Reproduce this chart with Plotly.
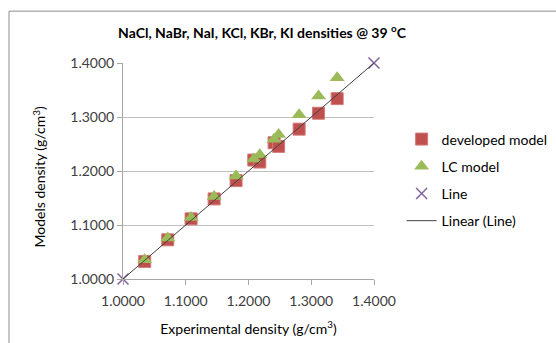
import plotly.graph_objects as go

# Experimental vs. modelled densities (g/cm3)
experimental = [1.0346, 1.0713, 1.1085, 1.1452, 1.1802, 1.2084, 1.2180,
                1.2408, 1.2480, 1.2807, 1.3116, 1.3413]
developed_model = [1.0325, 1.0726, 1.1114, 1.1483, 1.1822, 1.2203, 1.2166,
                   1.2523, 1.2456, 1.2775, 1.3070, 1.3340]
lc_model = [1.0356, 1.0757, 1.1138, 1.1526, 1.1908, 1.2220, 1.2300,
            1.2590, 1.2675, 1.3040, 1.3388, 1.3725]
line_x = [1.0, 1.4]
line_y = [1.0, 1.4]
tick_vals = [1.0, 1.1, 1.2, 1.3, 1.4]

FONT = "Lato, Carlito, Calibri, sans-serif"

fig = go.Figure()
fig.add_trace(go.Scatter(
    x=experimental, y=developed_model, mode="markers", name="developed model",
    marker=dict(symbol="square", size=12, color="#c0504d",
                line=dict(width=1, color="#d27a78")),
    cliponaxis=False, legendgroup="a"))
fig.add_trace(go.Scatter(
    x=experimental, y=lc_model, mode="markers", name="LC model",
    marker=dict(symbol="triangle-up", size=13, color="#9bbb59",
                line=dict(width=0)),
    cliponaxis=False, legendgroup="b"))
fig.add_trace(go.Scatter(
    x=line_x, y=line_y, mode="markers", name="Line",
    marker=dict(symbol="x-thin", size=11, color="#8064a2",
                line=dict(width=1.5, color="#8064a2")),
    cliponaxis=False, legendgroup="c"))
fig.add_trace(go.Scatter(
    x=line_x, y=line_y, mode="lines", name="Linear (Line)",
    line=dict(color="#404040", width=1), legendgroup="d"))

fig.update_layout(
    width=556, height=343,
    margin=dict(l=123, r=182, t=63, b=64, autoexpand=False),
    paper_bgcolor="white", plot_bgcolor="white",
    font=dict(family=FONT, size=14, color="#404040"),
    title=dict(text="<b>NaCl, NaBr, NaI, KCl, KBr, KI densities @ 39 <sup>o</sup>C</b>",
               x=262 / 556, xanchor="center", y=1 - 33 / 343, yanchor="middle",
               font=dict(family=FONT, size=14, color="#000000")),
    showlegend=True,
    legend=dict(x=1.11, xanchor="left", y=0.72, yanchor="top",
                font=dict(family=FONT, size=14, color="#000000"),
                tracegroupgap=6, traceorder="grouped", itemwidth=30,
                bgcolor="rgba(0,0,0,0)"),
    xaxis=dict(range=[1.0, 1.4], tickvals=tick_vals, tickformat=".4f",
               showgrid=False, zeroline=False, showline=True,
               linecolor="#a6a6a6", linewidth=1, ticks="outside",
               ticklen=5, tickcolor="#a6a6a6", ticklabelstandoff=4,
               automargin=False,
               title=dict(text="Experimental density (g/cm<sup>3</sup>)",
                          font=dict(family=FONT, size=14, color="#000000"),
                          standoff=16),
               tickfont=dict(family=FONT, size=14, color="#404040")),
    yaxis=dict(range=[1.0, 1.4], tickvals=tick_vals, tickformat=".4f",
               showgrid=True, gridcolor="#bfbfbf", gridwidth=1,
               zeroline=False, showline=True,
               linecolor="#a6a6a6", linewidth=1, ticks="outside",
               ticklen=5, tickcolor="#a6a6a6", automargin=False,
               tickfont=dict(family=FONT, size=14, color="#404040")),
)

# Vertical axis title
fig.add_annotation(text="Models density (g/cm<sup>3</sup>)", textangle=-90,
                   xref="paper", yref="paper", x=(39 - 123) / 251, y=0.47,
                   xanchor="center", yanchor="middle", showarrow=False,
                   font=dict(family=FONT, size=14, color="#000000"))

# Chart frame
fig.add_shape(type="rect", xref="paper", yref="paper",
              x0=(9 - 123) / 251, x1=2.0, y0=-1.0, y1=1 + (63 - 11) / 216.6,
              line=dict(color="#8c8c8c", width=1), fillcolor="rgba(0,0,0,0)",
              layer="below")

fig.write_html("out.html")
